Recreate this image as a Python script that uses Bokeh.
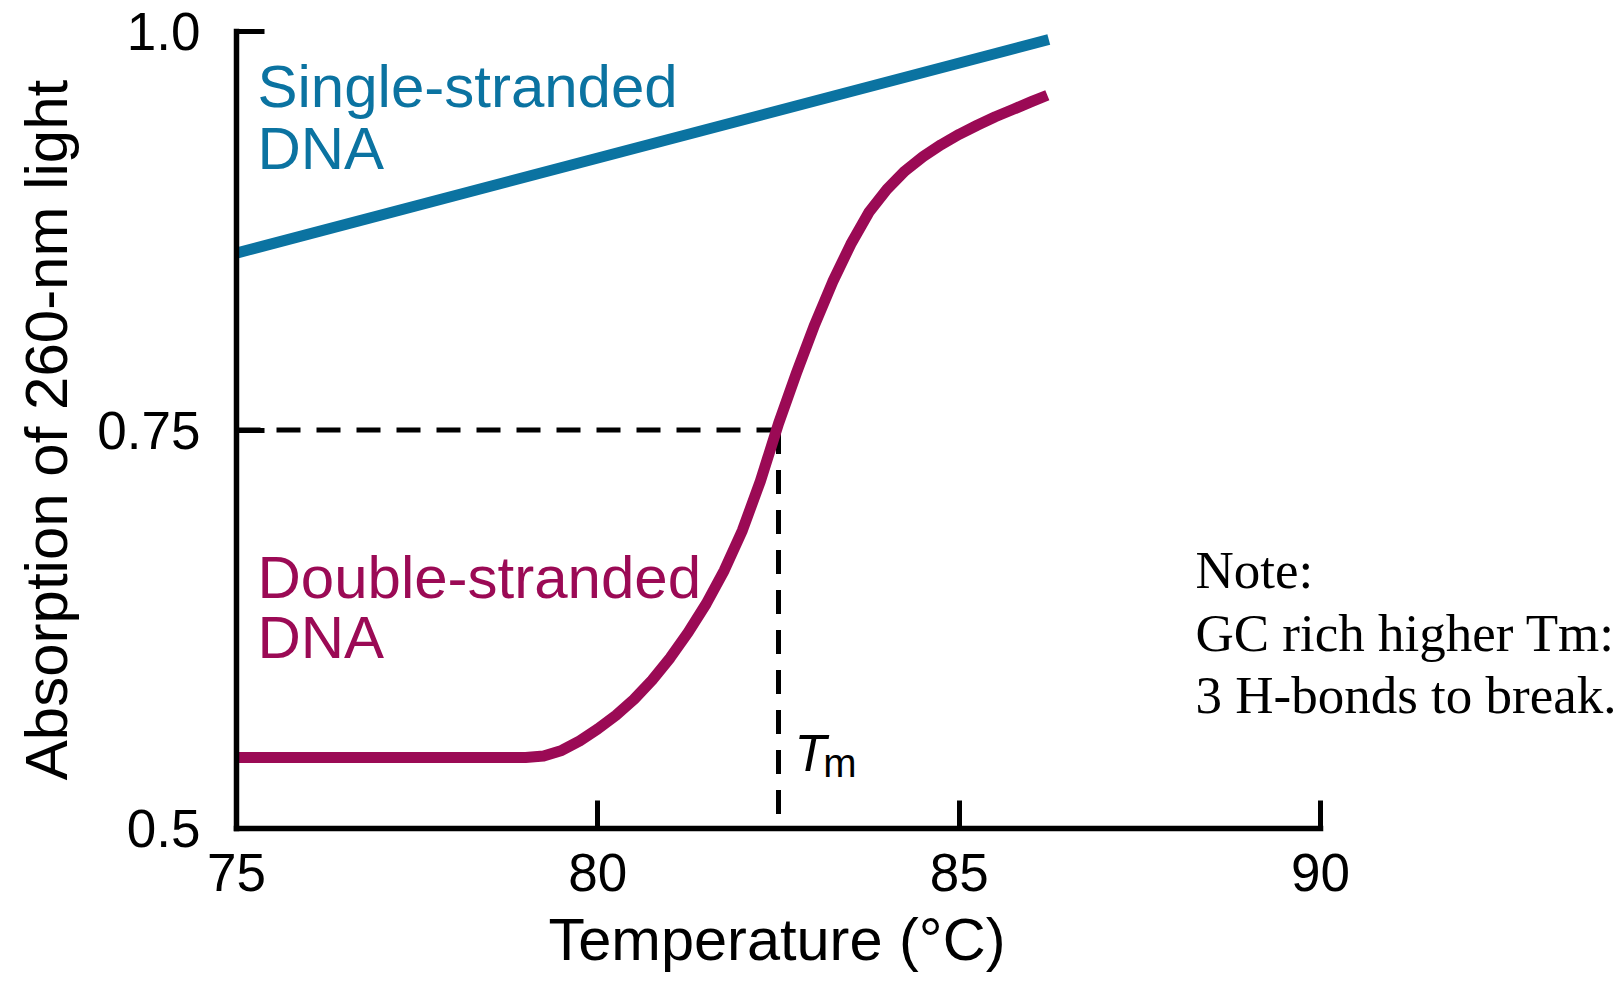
from bokeh.plotting import figure
from bokeh.models import Range1d, FixedTicker, Label, Title
from bokeh.embed import file_html
from bokeh.resources import INLINE

# ---------------- data ----------------
x_ticks = [75, 80, 85, 90]
y_ticks = [0.5, 0.75, 1.0]
y_tick_labels = ["0.5", "0.75", "1.0"]

single_temp = [75.0, 86.24]
single_abs = [0.861, 0.995]

double_temp = [75.0, 77.0, 79.0, 79.25, 79.5, 79.75, 80.0, 80.25, 80.5, 80.75,
               81.0, 81.25, 81.5, 81.75, 82.0, 82.25, 82.5, 82.75, 83.0, 83.25,
               83.5, 83.75, 84.0, 84.25, 84.5, 84.75, 85.0, 85.25, 85.5, 85.75,
               86.0, 86.22]
double_abs = [0.5445, 0.5445, 0.5445, 0.5455, 0.5490, 0.5550, 0.5625, 0.5710, 0.5810, 0.5930,
              0.6070, 0.6230, 0.6410, 0.6620, 0.6870, 0.7180, 0.7540, 0.7860, 0.8160, 0.8430,
              0.8665, 0.8865, 0.9010, 0.9125, 0.9215, 0.9290, 0.9355, 0.9412, 0.9465, 0.9512,
              0.9560, 0.9600]

tm_temp = 82.5
tm_abs = 0.75

BLUE = "#0b73a1"
MAGENTA = "#9b0a55"
SANS = "Liberation Sans"

# frame: x 75..90 spans 1084 px; extra room to the right keeps the note inside the frame
px_per_unit = (1320 - 236) / 15.0
x_end = 90 + (1620 - 1320) / px_per_unit

p = figure(width=1620, height=982, output_backend="svg", toolbar_location=None,
           x_range=Range1d(75, x_end), y_range=Range1d(0.5, 1.0),
           min_border_left=236, min_border_right=0, min_border_top=31,
           min_border_bottom=154)
p.outline_line_color = None
p.xgrid.visible = False
p.ygrid.visible = False
p.background_fill_color = "white"
p.border_fill_color = "white"

for ax in (p.xaxis[0], p.yaxis[0]):
    ax.axis_line_width = 5.5
    ax.axis_line_color = "black"
    ax.axis_line_cap = "square"
    ax.major_tick_line_width = 5
    ax.major_tick_line_color = "black"
    ax.major_tick_in = 28
    ax.major_tick_out = 0
    ax.minor_tick_line_color = None
    ax.major_label_text_font = SANS
    ax.major_label_text_font_size = "53px"
    ax.major_label_text_color = "black"
    ax.axis_label_text_font = SANS
    ax.axis_label_text_font_style = "normal"
    ax.axis_label_text_color = "black"

p.xaxis.bounds = (75, 90)
p.xaxis.ticker = FixedTicker(ticks=x_ticks)
p.yaxis.ticker = FixedTicker(ticks=y_ticks)
p.yaxis.major_label_overrides = {t: s for t, s in zip(y_ticks, y_tick_labels)}
p.xaxis.major_label_standoff = 25
p.yaxis.major_label_standoff = 36

p.yaxis.axis_label = "Absorption of 260-nm light"
p.yaxis.axis_label_text_font_size = "60px"
p.yaxis.axis_label_standoff = 14

# x-axis title, centred under the 75..90 span (the frame extends further right)
p.add_layout(Title(text="Temperature (\u00b0C)", align="left", offset=312,
                   standoff=20, text_font=SANS, text_font_size="59.5px",
                   text_font_style="normal", text_color="black"), "below")

# dashed Tm guides
p.line([75, tm_temp], [tm_abs, tm_abs], line_color="black", line_width=5,
       line_dash="24 16")
p.line([tm_temp, tm_temp], [tm_abs, 0.5], line_color="black", line_width=5,
       line_dash="24 16")

# curves
p.line(single_temp, single_abs, line_color=BLUE, line_width=11, line_cap="butt")
p.line(double_temp, double_abs, line_color=MAGENTA, line_width=11, line_cap="butt",
       line_join="round")

def lab(x, y, text, color="black", size="60px", font=SANS, style="normal", align="left"):
    p.add_layout(Label(x=x, y=y, text=text, text_color=color, text_font=font,
                       text_font_size=size, text_font_style=style,
                       text_align=align, text_baseline="alphabetic"))

lab(75.29, 0.9653, "Single-stranded", BLUE)
lab(75.29, 0.9264, "DNA", BLUE)
lab(75.29, 0.6573, "Double-stranded", MAGENTA)
lab(75.29, 0.6196, "DNA", MAGENTA)

lab(82.72, 0.5474, "T", size="52px", style="italic")
lab(83.12, 0.5411, "m", size="40px")

lab(88.27, 0.6622, "Note:", size="53px", font="Liberation Serif")
lab(88.27, 0.6227, "GC rich higher Tm:", size="53px", font="Liberation Serif")
lab(88.27, 0.5838, "3 H-bonds to break.", size="53px", font="Liberation Serif")

open("out.html", "w").write(file_html(p, INLINE))
